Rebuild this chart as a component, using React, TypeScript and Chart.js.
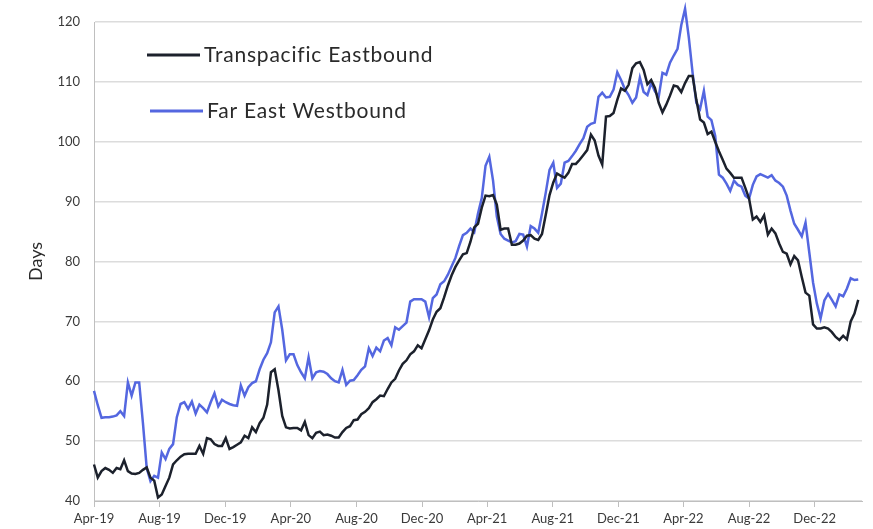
import React, { useEffect, useRef } from "react";
import { Chart, registerables } from "chart.js";

Chart.register(...registerables);

// Tick labels on the date axis (every 4 months, starting Apr-2019)
const tickLabels = [
  "Apr-19", "Aug-19", "Dec-19", "Apr-20", "Aug-20", "Dec-20",
  "Apr-21", "Aug-21", "Dec-21", "Apr-22", "Aug-22", "Dec-22",
];

const seriesNames = ["Transpacific Eastbound", "Far East Westbound"];

// Weekly values (days), first week = start of Apr-2019
const transpacificEastbound = [
  46.1, 43.9, 45, 45.5, 45.2, 44.7, 45.5, 45.3, 46.8, 45,
  44.6, 44.5, 44.7, 45.2, 45.6, 43.9, 43.4, 40.6, 41.1, 42.5,
  43.9, 46.1, 46.8, 47.4, 47.8, 47.9, 47.9, 47.9, 49.2, 47.9,
  50.5, 50.3, 49.5, 49.2, 49.2, 50.5, 48.7, 49, 49.4, 49.8,
  50.9, 50.5, 52.3, 51.5, 53, 53.9, 56.1, 61.5, 62, 58.5,
  54.2, 52.3, 52.1, 52.2, 52.2, 51.8, 53.2, 51, 50.5, 51.4,
  51.6, 51, 51.1, 50.9, 50.6, 50.6, 51.5, 52.2, 52.5, 53.5,
  53.6, 54.5, 54.9, 55.5, 56.5, 57, 57.6, 57.5, 58.7, 59.8,
  60.4, 61.8, 62.9, 63.5, 64.5, 65, 66, 65.5, 67, 68.5,
  70.3, 71.6, 72.2, 74, 76, 77.7, 79.1, 80.2, 81.2, 81.4,
  83.3, 85.7, 86.3, 89, 91, 90.9, 91.1, 89.5, 85.3, 85.5,
  85.5, 82.8, 82.8, 83, 83.5, 84.3, 84.4, 83.8, 83.6, 84.6,
  87.8, 91.1, 93.2, 94.7, 94.3, 94, 94.8, 96.3, 96.3, 97,
  97.8, 98.6, 101.2, 100.2, 97.7, 96.2, 104.2, 104.3, 104.8, 107,
  108.9, 108.5, 109.5, 112.3, 113.1, 113.3, 112, 109.6, 110.3, 109,
  106.5, 104.9, 106.2, 107.7, 109.4, 109.2, 108.3, 109.8, 111, 111,
  107, 103.7, 103.2, 101.3, 101.7, 100, 98.4, 97, 95.5, 94.8,
  94, 94, 94, 92.3, 90.5, 87, 87.5, 86.6, 87.7, 84.5,
  85.5, 84.7, 83, 81.6, 81.3, 79.5, 80.9, 80.2, 77.4, 74.8,
  74.3, 69.5, 68.8, 68.8, 69, 68.8, 68.2, 67.4, 66.9, 67.6,
  67, 70, 71.3, 73.6,
];

const farEastWestbound = [
  58.4, 56, 53.9, 54, 54, 54.1, 54.3, 55, 54.2, 59.8,
  57.6, 59.8, 59.8, 53, 45.5, 43.3, 44.2, 43.9, 48.1, 47,
  48.7, 49.5, 54, 56.2, 56.5, 55.4, 56.6, 54.6, 56.1, 55.5,
  54.8, 56.5, 58, 55.8, 56.9, 56.5, 56.2, 56, 55.9, 59.3,
  57.6, 59, 59.7, 60, 62, 63.6, 64.7, 66.5, 71.5, 72.5,
  68.6, 63.5, 64.5, 64.5, 62.7, 61.5, 60.5, 64, 60.5, 61.5,
  61.7, 61.6, 61.2, 60.5, 60, 59.8, 61.9, 59.4, 60.1, 60.2,
  61, 61.9, 62.5, 65.5, 64.2, 65.6, 65, 66.8, 67.2, 66,
  69, 68.6, 69.2, 69.8, 73.3, 73.7, 73.7, 73.7, 73.3, 70.7,
  73.9, 74.5, 76.2, 76.7, 77.8, 79.2, 80.6, 82.6, 84.4, 84.8,
  85.5, 84.9, 88, 90.6, 96, 97.5, 93.5, 87.5, 84.6, 83.8,
  83.5, 83.2, 83.4, 84.6, 84.5, 82.5, 85.9, 85.5, 84.8, 88,
  91.5, 95.3, 96.5, 92.3, 93, 96.5, 96.8, 97.6, 98.5, 99.6,
  100.6, 102.5, 103, 103.2, 107.5, 108.2, 107.4, 107.5, 108.7, 111.6,
  110.3, 108.8, 107.8, 106.5, 107.4, 110.7, 108.3, 107.8, 109.8, 108.4,
  107.5, 111.5, 111.2, 113.2, 114.4, 115.5, 119.5, 122.2, 117.4, 111.5,
  106.5, 105.5, 108.5, 104.2, 103.6, 101, 94.5, 94, 93, 91.8,
  93.5, 92.8, 92.5, 91, 90.5, 92.8, 94.2, 94.6, 94.3, 94,
  94.4, 93.5, 93.1, 92.5, 91, 88.5, 86.3, 85.3, 84.2, 86.5,
  81.5, 76.5, 73, 70.5, 73.5, 74.6, 73.6, 72.5, 74.5, 74.2,
  75.5, 77.2, 76.9, 77,
];

const seriesColors = ["#1c212c", "#5467e0"];
const FONT = "Lato, 'Open Sans', sans-serif";

const startMs = Date.UTC(2019, 3, 1);
const weekMs = 7 * 24 * 3600 * 1000;
const tickWeeks = tickLabels.map(
  (_, i) => (Date.UTC(2019, 3 + 4 * i, 1) - startMs) / weekMs
);

const legendPlugin = {
  id: "insideLegend",
  afterDraw(chart: any) {
    const ctx = chart.ctx;
    const items = [
      { x: 147, y: 55 },
      { x: 150, y: 111 },
    ];
    ctx.save();
    chart.data.datasets.forEach((ds: any, i: number) => {
      const p = items[i];
      ctx.strokeStyle = ds.borderColor;
      ctx.lineWidth = 3;
      ctx.beginPath();
      ctx.moveTo(p.x, p.y);
      ctx.lineTo(p.x + 53, p.y);
      ctx.stroke();
      ctx.fillStyle = "#2a2a2a";
      ctx.font = `21px ${FONT}`;
      try {
        ctx.letterSpacing = "0.8px";
      } catch (e) {}
      ctx.textBaseline = "middle";
      ctx.textAlign = "left";
      ctx.fillText(ds.label, p.x + 57, p.y);
    });
    ctx.restore();
  },
};

export default function App() {
  const ref = useRef<HTMLCanvasElement | null>(null);

  useEffect(() => {
    if (!ref.current) return;
    const chart = new Chart(ref.current, {
      type: "line",
      data: {
        datasets: [
          {
            label: seriesNames[0],
            data: transpacificEastbound.map((v, i) => ({ x: i, y: v })),
            borderColor: seriesColors[0],
            backgroundColor: seriesColors[0],
            borderWidth: 2.5,
            pointRadius: 0,
            tension: 0,
            clip: false,
          },
          {
            label: seriesNames[1],
            data: farEastWestbound.map((v, i) => ({ x: i, y: v })),
            borderColor: seriesColors[1],
            backgroundColor: seriesColors[1],
            borderWidth: 2.5,
            pointRadius: 0,
            tension: 0,
            clip: false,
          },
        ],
      },
      options: {
        animation: false,
        responsive: false,
        maintainAspectRatio: false,
        layout: { padding: { top: 22, right: 11, left: 0, bottom: 0 } },
        plugins: {
          legend: { display: false },
          tooltip: { enabled: false },
        },
        scales: {
          x: {
            type: "linear",
            min: 0,
            max: 204,
            afterBuildTicks: (scale: any) => {
              scale.ticks = tickWeeks.map((w) => ({ value: w }));
            },
            afterFit: (scale: any) => {
              scale.height = 28;
            },
            ticks: {
              autoSkip: false,
              maxRotation: 0,
              padding: 4,
              color: "#3a3a3a",
              font: { family: FONT, size: 13 },
              callback: (_v: any, i: number) => tickLabels[i],
            },
            grid: {
              drawOnChartArea: false,
              drawTicks: true,
              tickLength: 6,
              color: "#bfbfbf",
            },
            border: { color: "#bfbfbf", width: 1 },
          },
          y: {
            min: 40,
            max: 120,
            afterFit: (scale: any) => {
              scale.width = 94;
            },
            ticks: {
              stepSize: 10,
              padding: 14,
              color: "#3a3a3a",
              font: { family: FONT, size: 13 },
            },
            grid: { color: "#dcdcdc", lineWidth: 1.5, drawTicks: false },
            border: { color: "#bfbfbf", width: 1 },
            title: {
              display: true,
              text: "Days",
              color: "#2a2a2a",
              font: { family: FONT, size: 18 },
              padding: { top: 25, bottom: 0 },
            },
          },
        },
      },
      plugins: [legendPlugin],
    });
    return () => chart.destroy();
  }, []);

  return (
    <div style={{ position: "fixed", left: 0, top: 0, width: 873, height: 529, background: "#fff" }}>
      <canvas ref={ref} width={873} height={529} style={{ width: 873, height: 529 }} />
    </div>
  );
}
